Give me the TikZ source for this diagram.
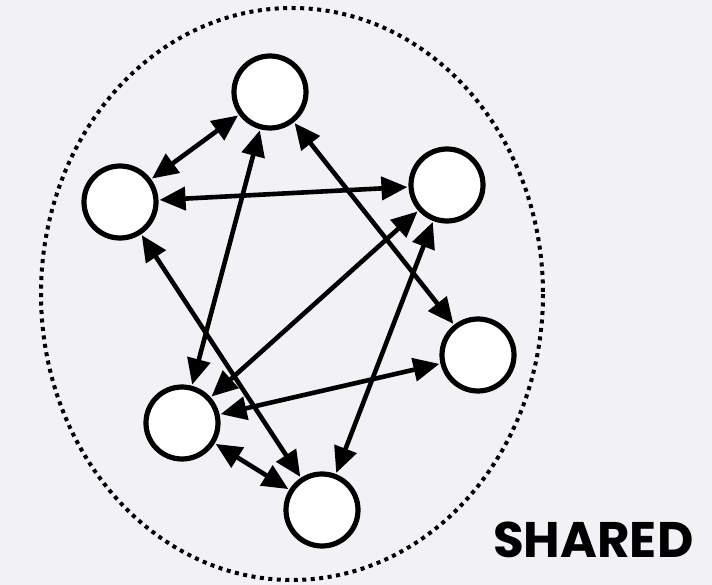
\documentclass[tikz,border=0pt]{standalone}
\usepackage{fontspec}
\setmainfont{Poppins}
\usetikzlibrary{arrows.meta}
\definecolor{bg}{RGB}{242,242,244}
\tikzset{
  peer/.style={circle, draw=black, fill=white, line width=5.2pt, minimum size=72pt, inner sep=0pt},
  link/.style={line width=4.6pt, {Triangle[length=26pt,width=23pt]}-{Triangle[length=26pt,width=23pt]}, shorten <=1pt, shorten >=1pt},
  bound/.style={draw=black, line width=4pt, dash pattern=on 4pt off 4.5pt}
}
\begin{document}
\begin{tikzpicture}[x=1pt,y=-1pt]
\fill[bg] (0,0) rectangle (712,585);
\useasboundingbox (0,0) rectangle (712,585);
\draw[bound] (292,294) ellipse [x radius=251, y radius=286];
\node[peer] (a) at (270,92) {};
\node[peer] (b) at (120,202) {};
\node[peer] (c) at (447,185) {};
\node[peer] (d) at (478,355) {};
\node[peer] (e) at (182,423) {};
\node[peer] (f) at (322,510) {};
\draw[link] (a) -- (b);
\draw[link] (b) -- (c);
\draw[link] (a) -- (e);
\draw[link] (a) -- (d);
\draw[link] (b) -- (f);
\draw[link] (c) -- (e);
\draw[link] (c) -- (f);
\draw[link] (d) -- (e);
\draw[link] (e) -- (f);
\node[anchor=base west, inner sep=0pt, font=\fontsize{50}{50}\selectfont\bfseries] (lbl) at (493,557) {SHARED};
\end{tikzpicture}
\end{document}
